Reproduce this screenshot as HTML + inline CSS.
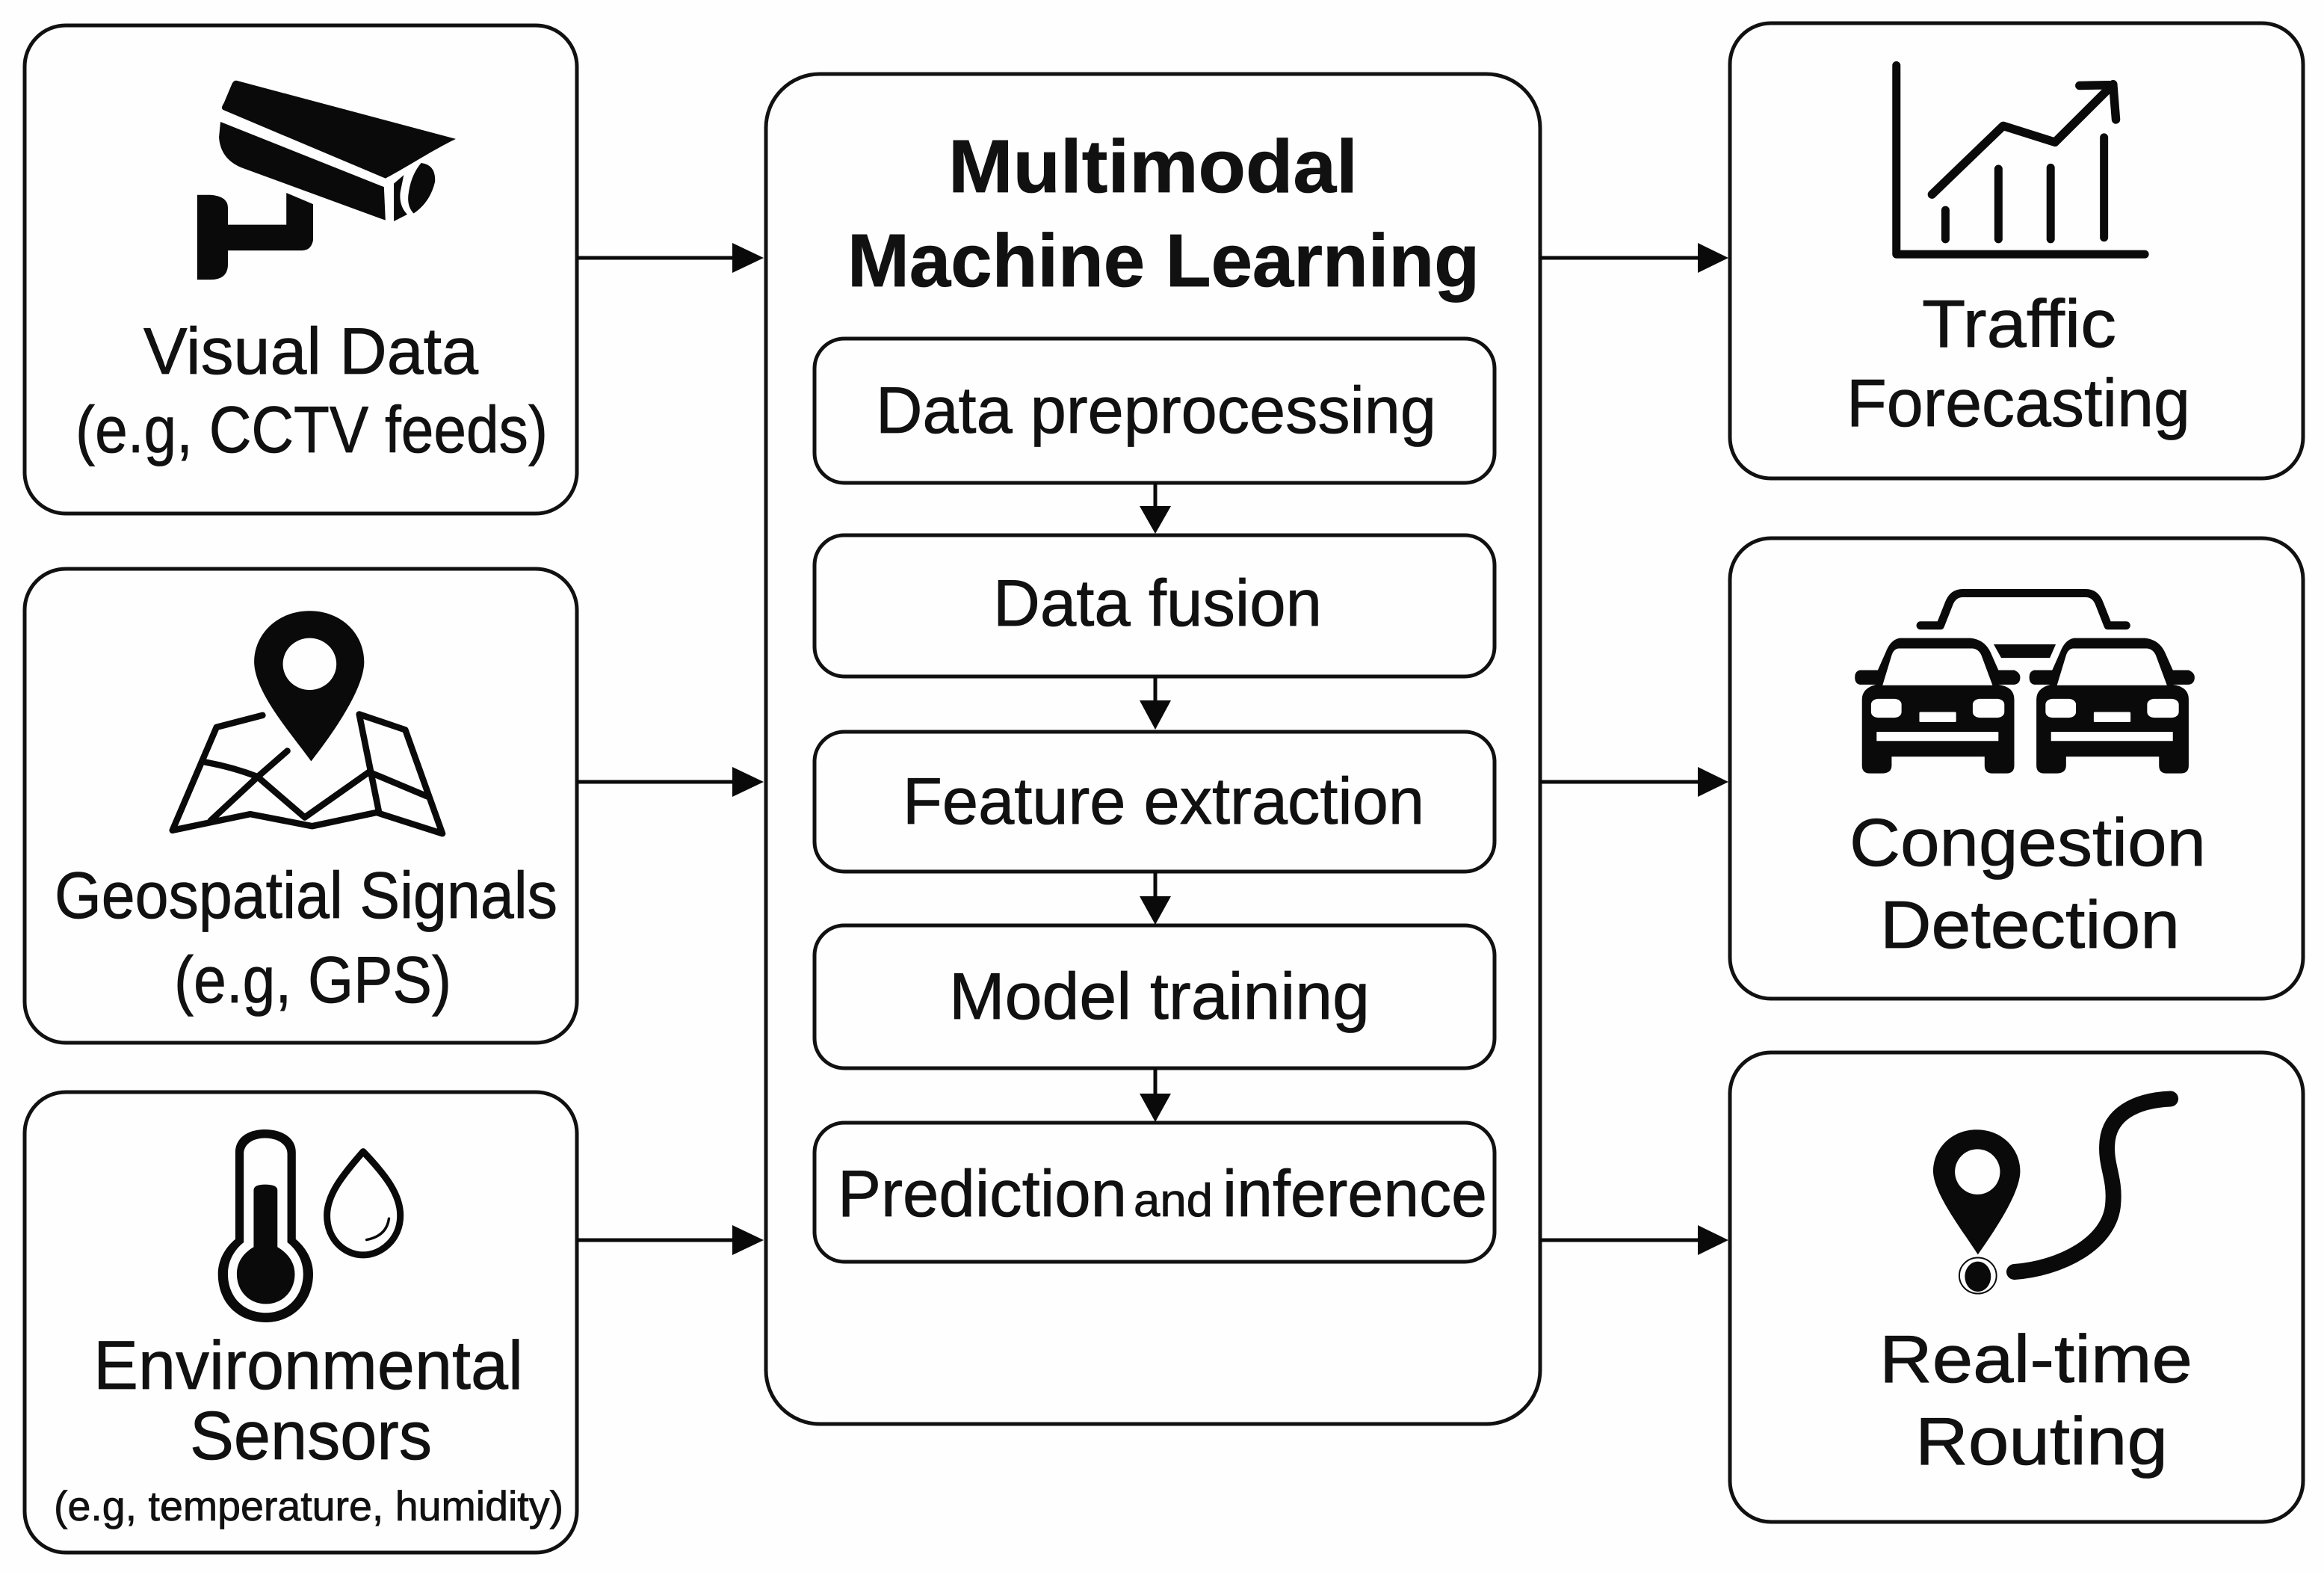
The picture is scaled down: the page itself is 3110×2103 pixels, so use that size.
<!DOCTYPE html>
<html><head><meta charset="utf-8"><style>
html,body{margin:0;padding:0;background:#fefefe}
svg{display:block}
text{font-family:"Liberation Sans",sans-serif;fill:#111;stroke:#111;stroke-width:.8px;font-size:88px}
.b{fill:none;stroke:#111;stroke-width:5}
.s{fill:none;stroke:#0a0a0a;vector-effect:non-scaling-stroke;stroke-linecap:round;stroke-linejoin:round}
.k{fill:#0a0a0a}.w{fill:#fefefe}
</style></head><body>
<svg xmlns="http://www.w3.org/2000/svg" width="3110" height="2103" viewBox="0 0 3110 2103">
<rect width="3110" height="2103" fill="#fefefe"/>
<defs><g id="car">
<path class="k" d="M495 365L675 365Q710 370 725 410L745 467L785 467Q800 475 800 490Q800 510 785 513L745 513Q785 520 785 560L785 770Q785 795 765 795L730 795Q710 795 710 770L710 742L475 742L475 770Q475 795 450 795L420 795Q400 795 400 770L400 560Q400 525 435 513L395 513Q382 510 382 490Q382 470 395 467L440 467L460 410Q472 370 495 365Z"/>
<path class="w" d="M492 398L680 398Q695 400 702 420L730 515L452 515L475 420Q480 400 492 398Z"/>
<rect class="w" x="423" y="558" width="77" height="60" rx="18"/>
<rect class="w" x="680" y="558" width="80" height="60" rx="18"/>
<rect class="w" x="545" y="600" width="93" height="32" rx="3"/>
<rect class="w" x="437" y="663" width="308" height="29"/>
</g></defs>

<!-- boxes -->
<rect class="b" x="33" y="34" width="739" height="653" rx="55"/>
<rect class="b" x="33" y="761" width="739" height="634" rx="55"/>
<rect class="b" x="33" y="1461" width="739" height="616" rx="55"/>
<rect class="b" x="1025" y="99" width="1036" height="1806" rx="72"/>
<rect class="b" x="1090" y="453" width="910" height="193" rx="40"/>
<rect class="b" x="1090" y="716" width="910" height="189" rx="40"/>
<rect class="b" x="1090" y="979" width="910" height="187" rx="40"/>
<rect class="b" x="1090" y="1238" width="910" height="191" rx="40"/>
<rect class="b" x="1090" y="1502" width="910" height="186" rx="40"/>
<rect class="b" x="2315" y="31" width="767" height="609" rx="55"/>
<rect class="b" x="2315" y="720" width="767" height="616" rx="55"/>
<rect class="b" x="2315" y="1408" width="767" height="628" rx="55"/>

<!-- arrows -->
<g fill="#0a0a0a" stroke="#0a0a0a" stroke-width="5">
<line x1="772" y1="345" x2="985" y2="345"/><line x1="772" y1="1046" x2="985" y2="1046"/><line x1="772" y1="1659" x2="985" y2="1659"/>
<line x1="2061" y1="345" x2="2275" y2="345"/><line x1="2061" y1="1046" x2="2275" y2="1046"/><line x1="2061" y1="1659" x2="2275" y2="1659"/>
<line x1="1546" y1="646" x2="1546" y2="680"/><line x1="1546" y1="905" x2="1546" y2="940"/><line x1="1546" y1="1166" x2="1546" y2="1202"/><line x1="1546" y1="1429" x2="1546" y2="1466"/>
</g>
<g fill="#0a0a0a">
<path d="M980 325L1022 345L980 365Z"/><path d="M980 1026L1022 1046L980 1066Z"/><path d="M980 1639L1022 1659L980 1679Z"/>
<path d="M2272 325L2313 345L2272 365Z"/><path d="M2272 1026L2313 1046L2272 1066Z"/><path d="M2272 1639L2313 1659L2272 1679Z"/>
<path d="M1525 677L1567 677L1546 714Z"/><path d="M1525 937L1567 937L1546 976Z"/><path d="M1525 1199L1567 1199L1546 1237Z"/><path d="M1525 1463L1567 1463L1546 1501Z"/>
</g>

<!-- camera -->
<g transform="scale(.663,.459)">
<path class="k" d="M478 235L920 405C870 440 830 480 778 520L450 320Q445 315 452 300L468 245Q472 233 478 235Z"/>
<path class="k" d="M445 355L775 545L778 642L490 490Q445 465 442 400Z"/>
<path class="k" d="M795 535L815 510L808 560Q805 600 822 625L795 645Z"/>
<path class="k" d="M850 475Q880 480 878 530Q868 590 835 622Q820 600 825 560Q830 510 850 475Z"/>
<path class="k" d="M398 568L425 568Q460 572 460 605L460 655L578 655L578 562L632 595L632 700Q628 730 610 730L460 730L460 775Q458 815 425 815L398 815Z"/>
</g>

<!-- map -->
<g transform="translate(0,740) scale(.663,.4337)">
<path class="s" stroke-width="8.5" d="M530 500L437 537L348 855L505 805L630 842L760 800L893 865L818 545L725 497L765 800"/>
<path class="s" stroke-width="8.5" d="M415 645Q470 660 520 690L615 815L745 675L862 750"/>
<path class="s" stroke-width="8.5" d="M580 610L520 690L425 825"/>
<path class="k" d="M625 178C690 178 735 250 735 335C735 420 670 560 628 642C590 560 513 430 513 335C513 250 560 178 625 178Z"/>
<ellipse class="w" cx="625" cy="342" rx="54" ry="80"/>
</g>

<!-- thermometer -->
<g transform="translate(0,1440) scale(.663,.4228)">
<path class="k" d="M475 240C475 195 500 168 535 168C570 168 597 195 597 240L597 515C620 545 632 585 632 625C632 715 590 778 537 778C480 778 440 715 440 625C440 585 452 545 475 515Z"/>
<path class="w" d="M492 245C492 215 510 195 535 195C560 195 580 215 580 245L580 525C600 550 612 585 612 625C612 695 580 748 537 748C490 748 460 695 460 625C460 585 472 550 492 525Z"/>
<path class="k" d="M512 360Q512 342 535 342Q560 342 560 360L560 540C582 560 595 590 595 625C595 680 570 720 537 720C503 720 478 680 478 625C478 590 490 560 512 540Z"/>
<path class="s" stroke-width="9" d="M733 238C780 315 808 375 808 440C808 515 770 565 733 565C695 565 660 515 660 440C660 375 690 315 733 238Z"/>
<path class="s" stroke-width="3.5" d="M785 450Q780 505 740 517"/>
</g>

<!-- chart -->
<g transform="translate(2280,0) scale(.5293,.4209)">
<path class="s" stroke-width="11" d="M487 208L487 808L1115 808"/>
<path class="s" stroke-width="11" d="M611 668L611 760M745 537L745 760M877 533L877 760M1012 437L1012 755"/>
<path class="s" stroke-width="11.5" d="M577 618L757 400L888 452L1035 268M950 272L1035 270L1042 380"/>
</g>

<!-- cars -->
<g transform="translate(2280,700) scale(.5293,.4209)">
<path class="s" stroke-width="11" d="M548 325L598 325L620 255Q630 222 655 222L965 222Q990 222 1000 255L1022 325L1068 325"/>
<path class="k" d="M733 385L890 385L875 428L752 428Z"/>
<use href="#car"/>
<use href="#car" x="441"/>
</g>

<!-- route -->
<g transform="translate(2280,1390) scale(.5293,.4209)">
<path class="k" d="M690 288C755 288 800 350 800 420C800 490 735 610 693 685C655 610 580 490 580 420C580 350 625 288 690 288Z"/>
<ellipse class="w" cx="692" cy="422" rx="57" ry="72"/>
<ellipse class="k" cx="693" cy="755" rx="33" ry="48"/>
<ellipse class="s" stroke-width="2" cx="693" cy="752" rx="47" ry="57"/>
<path class="s" stroke-width="21" d="M785 740C900 730 1030 650 1035 520C1040 440 1015 400 1020 330C1025 240 1090 195 1180 190"/>
</g>

<!-- text -->
<g>
<text x="192" y="500" textLength="448" lengthAdjust="spacingAndGlyphs">Visual Data</text>
<text x="101" y="605" textLength="632" lengthAdjust="spacingAndGlyphs">(e.g, CCTV feeds)</text>
<text x="73" y="1228" textLength="673" lengthAdjust="spacingAndGlyphs">Geospatial Signals</text>
<text x="233" y="1341" textLength="371" lengthAdjust="spacingAndGlyphs">(e.g, GPS)</text>
<text x="125" y="1858" textLength="575" lengthAdjust="spacingAndGlyphs" style="font-size:92px">Environmental</text>
<text x="254" y="1952" textLength="324" lengthAdjust="spacingAndGlyphs" style="font-size:92px">Sensors</text>
<text x="72" y="2034" textLength="682" lengthAdjust="spacingAndGlyphs" style="font-size:56px">(e.g, temperature, humidity)</text>

<text x="1269" y="257" textLength="548" lengthAdjust="spacingAndGlyphs" style="font-size:100px;font-weight:bold">Multimodal</text>
<text x="1134" y="383" textLength="846" lengthAdjust="spacingAndGlyphs" style="font-size:100px;font-weight:bold">Machine Learning</text>
<text x="1172" y="579" textLength="750" lengthAdjust="spacingAndGlyphs">Data preprocessing</text>
<text x="1329" y="837" textLength="440" lengthAdjust="spacingAndGlyphs">Data fusion</text>
<text x="1208" y="1102" textLength="698" lengthAdjust="spacingAndGlyphs">Feature extraction</text>
<text x="1270" y="1363" textLength="563" lengthAdjust="spacingAndGlyphs">Model training</text>
<text x="1121" y="1627" textLength="387" lengthAdjust="spacingAndGlyphs">Prediction</text>
<text x="1517" y="1627" textLength="106" lengthAdjust="spacingAndGlyphs" style="font-size:62px">and</text>
<text x="1636" y="1627" textLength="354" lengthAdjust="spacingAndGlyphs">inference</text>

<text x="2572" y="464" textLength="260" lengthAdjust="spacingAndGlyphs" style="font-size:90px">Traffic</text>
<text x="2471" y="570" textLength="460" lengthAdjust="spacingAndGlyphs" style="font-size:90px">Forecasting</text>
<text x="2475" y="1158" textLength="477" lengthAdjust="spacingAndGlyphs" style="font-size:90px">Congestion</text>
<text x="2516" y="1268" textLength="401" lengthAdjust="spacingAndGlyphs" style="font-size:90px">Detection</text>
<text x="2515" y="1849" textLength="419" lengthAdjust="spacingAndGlyphs" style="font-size:90px">Real-time</text>
<text x="2563" y="1959" textLength="338" lengthAdjust="spacingAndGlyphs" style="font-size:90px">Routing</text>
</g>
</svg>
</body></html>
